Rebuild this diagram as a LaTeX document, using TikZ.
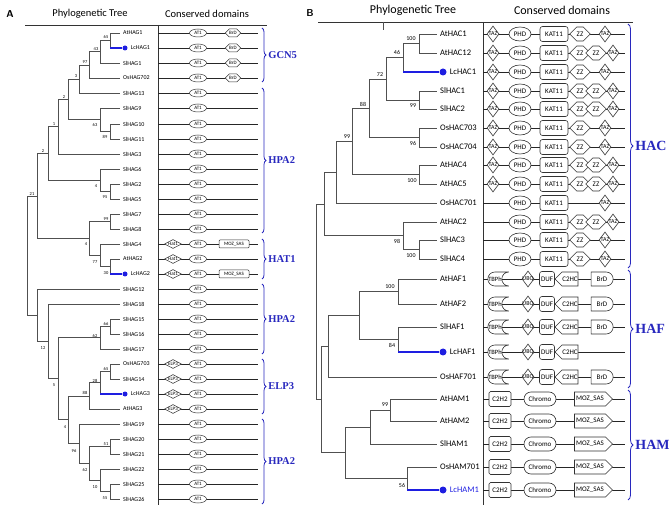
\documentclass[tikz,border=0pt]{standalone}
\usepackage{fontspec}
\setmainfont{Carlito}
\newfontfamily\cladefont{Liberation Serif}
\usetikzlibrary{shapes.geometric, shapes.symbols, shapes.misc, decorations.pathreplacing, positioning, calc}

\definecolor{treegray}{RGB}{80,80,80}
\definecolor{domgray}{RGB}{50,50,50}
\definecolor{lcblue}{RGB}{30,30,225}
\definecolor{cladeblue}{RGB}{40,40,190}

\tikzstyle{branch} = [draw=treegray, line width=0.7pt]
\tikzstyle{lcbranch} = [draw=lcblue, line width=1.2pt]
\tikzstyle{rule} = [draw=black!80, line width=0.8pt]
\tikzstyle{rowline} = [draw=black!85, line width=0.8pt]
\tikzstyle{panel} = [inner sep=0pt, font=\sffamily\bfseries\fontsize{10}{10}\selectfont]
\tikzstyle{headA} = [inner sep=0pt, font=\fontsize{10.5}{10.5}\selectfont]
\tikzstyle{headB} = [inner sep=0pt, font=\fontsize{12}{12}\selectfont]
\tikzstyle{leafA} = [anchor=west, inner xsep=3pt, inner ysep=0pt, font=\fontsize{6}{6}\selectfont]
\tikzstyle{leafB} = [anchor=west, inner xsep=3pt, inner ysep=0pt, font=\fontsize{8.5}{8.5}\selectfont]
\tikzstyle{lcdotA} = [circle, fill=lcblue, inner sep=0pt, minimum size=5pt]
\tikzstyle{lcdotB} = [circle, fill=lcblue, inner sep=0pt, minimum size=7pt]
\tikzstyle{bootA} = [inner sep=0pt, font=\fontsize{4.5}{4.5}\selectfont]
\tikzstyle{bootB} = [inner sep=0pt, font=\fontsize{6}{6}\selectfont]
\tikzstyle{clade} = [draw=cladeblue, line width=0.8pt, decorate, decoration={brace, amplitude=4pt}]
\tikzstyle{cladeA} = [text=cladeblue, inner sep=0pt, font=\cladefont\bfseries\fontsize{10.5}{10.5}\selectfont]
\tikzstyle{cladeB} = [text=cladeblue, inner sep=0pt, font=\cladefont\bfseries\fontsize{14}{14}\selectfont]
% domain shapes, panel A
\tikzstyle{domA} = [draw=domgray, fill=white, inner sep=0pt, line width=0.5pt, font=\fontsize{5}{5}\selectfont]
\tikzstyle{at1} = [domA, ellipse, minimum width=17pt, minimum height=8pt]
\tikzstyle{brdA} = [domA, signal, signal to=west and east, minimum width=11pt, minimum height=8pt]
\tikzstyle{diamA} = [domA, diamond, minimum width=17pt, minimum height=9pt]
\tikzstyle{mozA} = [domA, rectangle, rounded corners=1pt, minimum width=30pt, minimum height=8pt]
% domain shapes, panel B
\tikzstyle{domB} = [draw=domgray, fill=white, inner sep=0pt, line width=0.6pt, minimum height=14pt, font=\fontsize{7}{7}\selectfont]
\tikzstyle{taz} = [domB, diamond, minimum width=12pt, minimum height=16pt, font=\fontsize{6}{6}\selectfont]
\tikzstyle{phd} = [domB, ellipse, minimum width=22pt]
\tikzstyle{kat} = [domB, rectangle, rounded corners=2.5pt, minimum width=28pt, minimum height=15pt]
\tikzstyle{zz} = [domB, signal, signal to=west and east, minimum width=12pt]
\tikzstyle{tbp} = [domB, rounded rectangle, rounded rectangle right arc=concave, minimum width=21pt, font=\fontsize{6.5}{6.5}\selectfont]
\tikzstyle{duf} = [domB, rectangle, rounded corners=2.5pt, minimum width=15pt, minimum height=15pt]
\tikzstyle{c2hc} = [domB, signal, signal to=west, minimum width=23pt]
\tikzstyle{brdB} = [domB, rounded rectangle, rounded rectangle left arc=none, minimum width=22pt]
\tikzstyle{c2h2} = [domB, rectangle, rounded corners=1.5pt, minimum width=22pt, minimum height=15pt]
\tikzstyle{chromo} = [domB, rounded rectangle, minimum width=32pt]
\tikzstyle{mozB} = [domB, signal, signal to=east, minimum width=38pt]

\begin{document}
\begin{tikzpicture}[x=1pt, y=-1pt]
\useasboundingbox (0,0) rectangle (669,510);

%% ---------------- panel A ----------------
\node (labA) [panel] at (10,14) {A};
\node (treeA) [headA] at (90,14) {Phylogenetic Tree};
\node (domA) [headA] at (207,14) {Conserved domains};
\coordinate (ruleAl) at (25,25);
\coordinate (ruleAr) at (267,25);
\coordinate (divA) at (158,25);
\coordinate (divAb) at (158,505);
\coordinate (endA) at (258,25);
\coordinate (braceA) at (262,25);
\coordinate (colHat) at (173,25);
\coordinate (colAT) at (198,25);
\coordinate (colBrD) at (233,25);
\coordinate (colMOZ) at (234,25);
\draw[rule] (ruleAl) -- (ruleAr);
\draw[rule] (divA) -- (divAb);

% leaves
\node (AtHAG1) [leafA] at (120,33) {AtHAG1};
\node (LcHAG1dot) [lcdotA] at (125,48) {};
\node (LcHAG1) [leafA, right=0pt of LcHAG1dot] {LcHAG1};
\node (SlHAG1) [leafA] at (120,63) {SlHAG1};
\node (OsHAG702) [leafA] at (120,78) {OsHAG702};
\node (SlHAG13) [leafA] at (120,93) {SlHAG13};
\node (SlHAG9) [leafA] at (120,108) {SlHAG9};
\node (SlHAG10) [leafA] at (120,124) {SlHAG10};
\node (SlHAG11) [leafA] at (120,139) {SlHAG11};
\node (SlHAG3) [leafA] at (120,154) {SlHAG3};
\node (SlHAG6) [leafA] at (120,169) {SlHAG6};
\node (SlHAG2) [leafA] at (120,184) {SlHAG2};
\node (SlHAG5) [leafA] at (120,199) {SlHAG5};
\node (SlHAG7) [leafA] at (120,214) {SlHAG7};
\node (SlHAG8) [leafA] at (120,229) {SlHAG8};
\node (SlHAG4) [leafA] at (120,244) {SlHAG4};
\node (AtHAG2) [leafA] at (120,259) {AtHAG2};
\node (LcHAG2dot) [lcdotA] at (125,274) {};
\node (LcHAG2) [leafA, right=0pt of LcHAG2dot] {LcHAG2};
\node (SlHAG12) [leafA] at (120,289) {SlHAG12};
\node (SlHAG18) [leafA] at (120,304) {SlHAG18};
\node (SlHAG15) [leafA] at (120,319) {SlHAG15};
\node (SlHAG16) [leafA] at (120,334) {SlHAG16};
\node (SlHAG17) [leafA] at (120,349) {SlHAG17};
\node (OsHAG703) [leafA] at (120,364) {OsHAG703};
\node (SlHAG14) [leafA] at (120,379) {SlHAG14};
\node (LcHAG3dot) [lcdotA] at (125,394) {};
\node (LcHAG3) [leafA, right=0pt of LcHAG3dot] {LcHAG3};
\node (AtHAG3) [leafA] at (120,409) {AtHAG3};
\node (SlHAG19) [leafA] at (120,424) {SlHAG19};
\node (SlHAG20) [leafA] at (120,439) {SlHAG20};
\node (SlHAG21) [leafA] at (120,454) {SlHAG21};
\node (SlHAG22) [leafA] at (120,469) {SlHAG22};
\node (SlHAG25) [leafA] at (120,484) {SlHAG25};
\node (SlHAG26) [leafA] at (120,499) {SlHAG26};

% inner nodes
\coordinate (a65) at (110,40.5);
\coordinate (a43) at (100,51.75);
\coordinate (a97) at (89,64.9);
\coordinate (a3) at (79,78.9);
\coordinate (a89) at (110,131.5);
\coordinate (a63) at (100,119.75);
\coordinate (a2) at (68,99.4);
\coordinate (a1) at (58,126.7);
\coordinate (a95) at (110,191.5);
\coordinate (a4) at (100,180.25);
\coordinate (a2b) at (48,153.5);
\coordinate (a99) at (110,221.5);
\coordinate (a30) at (110,266.5);
\coordinate (a77) at (100,255.25);
\coordinate (a4b) at (89,238.4);
\coordinate (a21) at (37,196);
\coordinate (a66) at (110,326.5);
\coordinate (a62) at (100,337.75);
\coordinate (a65b) at (110,371.5);
\coordinate (a28) at (100,382.75);
\coordinate (a88) at (89,395.9);
\coordinate (a51) at (110,446.5);
\coordinate (a55) at (110,491.5);
\coordinate (a10) at (100,480.25);
\coordinate (a62b) at (89,463.4);
\coordinate (a96) at (79,443.7);
\coordinate (a4c) at (68,419.8);
\coordinate (a5) at (58,378.8);
\coordinate (a12) at (48,341.4);
\coordinate (a37) at (37,315.2);
\coordinate (rootA) at (27,255.6);

\draw[branch] (a65) |- (AtHAG1.west) (a65) |- (LcHAG1dot.west);
\draw[branch] (a43) |- (a65) (a43) |- (SlHAG1.west);
\draw[branch] (a97) |- (a43) (a97) |- (OsHAG702.west);
\draw[branch] (a3) |- (a97) (a3) |- (SlHAG13.west);
\draw[branch] (a89) |- (SlHAG10.west) (a89) |- (SlHAG11.west);
\draw[branch] (a63) |- (SlHAG9.west) (a63) |- (a89);
\draw[branch] (a2) |- (a3) (a2) |- (a63);
\draw[branch] (a1) |- (a2) (a1) |- (SlHAG3.west);
\draw[branch] (a95) |- (SlHAG2.west) (a95) |- (SlHAG5.west);
\draw[branch] (a4) |- (SlHAG6.west) (a4) |- (a95);
\draw[branch] (a2b) |- (a1) (a2b) |- (a4);
\draw[branch] (a99) |- (SlHAG7.west) (a99) |- (SlHAG8.west);
\draw[branch] (a30) |- (AtHAG2.west) (a30) |- (LcHAG2dot.west);
\draw[branch] (a77) |- (SlHAG4.west) (a77) |- (a30);
\draw[branch] (a4b) |- (a99) (a4b) |- (a77);
\draw[branch] (a21) |- (a2b) (a21) |- (a4b);
\draw[branch] (a66) |- (SlHAG15.west) (a66) |- (SlHAG16.west);
\draw[branch] (a62) |- (a66) (a62) |- (SlHAG17.west);
\draw[branch] (a65b) |- (OsHAG703.west) (a65b) |- (SlHAG14.west);
\draw[branch] (a28) |- (a65b) (a28) |- (LcHAG3dot.west);
\draw[branch] (a88) |- (a28) (a88) |- (AtHAG3.west);
\draw[branch] (a51) |- (SlHAG20.west) (a51) |- (SlHAG21.west);
\draw[branch] (a55) |- (SlHAG25.west) (a55) |- (SlHAG26.west);
\draw[branch] (a10) |- (SlHAG22.west) (a10) |- (a55);
\draw[branch] (a62b) |- (a51) (a62b) |- (a10);
\draw[branch] (a96) |- (SlHAG19.west) (a96) |- (a62b);
\draw[branch] (a4c) |- (a88) (a4c) |- (a96);
\draw[branch] (a5) |- (a62) (a5) |- (a4c);
\draw[branch] (a12) |- (SlHAG18.west) (a12) |- (a5);
\draw[branch] (a37) |- (SlHAG12.west) (a37) |- (a12);
\draw[branch] (rootA) |- (a21) (rootA) |- (a37);
\draw[lcbranch] (a65 |- LcHAG1dot) -- (LcHAG1dot.west);
\draw[lcbranch] (a30 |- LcHAG2dot) -- (LcHAG2dot.west);
\draw[lcbranch] (a28 |- LcHAG3dot) -- (LcHAG3dot.west);

% bootstrap values
\node (bsa65) [bootA] at (106,37) {65};
\node (bsa43) [bootA] at (96,49) {43};
\node (bsa97) [bootA] at (85,62) {97};
\node (bsa3) [bootA] at (76,76) {3};
\node (bsa89) [bootA] at (105,137) {89};
\node (bsa63) [bootA] at (95,125) {63};
\node (bsa2) [bootA] at (64,97) {2};
\node (bsa1) [bootA] at (54,124) {1};
\node (bsa95) [bootA] at (105,197) {95};
\node (bsa4) [bootA] at (96,186) {4};
\node (bsa2b) [bootA] at (43,151) {2};
\node (bsa99) [bootA] at (106,219) {99};
\node (bsa30) [bootA] at (106,273) {30};
\node (bsa77) [bootA] at (95,262) {77};
\node (bsa4b) [bootA] at (86,244) {4};
\node (bsa21) [bootA] at (32,194) {21};
\node (bsa66) [bootA] at (106,324) {66};
\node (bsa62) [bootA] at (95,336) {62};
\node (bsa65b) [bootA] at (106,369) {65};
\node (bsa28) [bootA] at (95,381) {28};
\node (bsa88) [bootA] at (85,393) {88};
\node (bsa51) [bootA] at (106,444) {51};
\node (bsa55) [bootA] at (105,498) {55};
\node (bsa10) [bootA] at (95,487) {10};
\node (bsa62b) [bootA] at (85,470) {62};
\node (bsa96) [bootA] at (74,451) {96};
\node (bsa4c) [bootA] at (65,427) {4};
\node (bsa5) [bootA] at (54,385) {5};
\node (bsa12) [bootA] at (43,348) {12};

% domain rows
\foreach \l in {AtHAG1, LcHAG1, SlHAG1, OsHAG702, SlHAG13, SlHAG9, SlHAG10, SlHAG11,
  SlHAG3, SlHAG6, SlHAG2, SlHAG5, SlHAG7, SlHAG8, SlHAG4, AtHAG2, LcHAG2, SlHAG12,
  SlHAG18, SlHAG15, SlHAG16, SlHAG17, OsHAG703, SlHAG14, LcHAG3, AtHAG3, SlHAG19,
  SlHAG20, SlHAG21, SlHAG22, SlHAG25, SlHAG26}
  \draw[rowline] (divA |- \l) -- (endA |- \l);
\foreach \l in {AtHAG1, LcHAG1, SlHAG1, OsHAG702} {
  \node (\l-at1) [at1] at (colAT |- \l) {AT1};
  \node (\l-brd) [brdA] at (colBrD |- \l) {BrD};
}
\foreach \l in {SlHAG13, SlHAG9, SlHAG10, SlHAG11, SlHAG3, SlHAG6, SlHAG2, SlHAG5,
  SlHAG7, SlHAG8, SlHAG12, SlHAG18, SlHAG15, SlHAG16, SlHAG17, SlHAG19, SlHAG20,
  SlHAG21, SlHAG22, SlHAG25, SlHAG26}
  \node (\l-at1) [at1] at (colAT |- \l) {AT1};
\foreach \l in {SlHAG4, AtHAG2, LcHAG2} {
  \node (\l-hat) [diamA] at (colHat |- \l) {\makebox[0pt]{Hat1}};
  \node (\l-at1) [at1] at (colAT |- \l) {AT1};
}
\foreach \l in {SlHAG4, LcHAG2}
  \node (\l-moz) [mozA] at (colMOZ |- \l) {MOZ\_SAS};
\foreach \l in {OsHAG703, SlHAG14, LcHAG3, AtHAG3} {
  \node (\l-elp) [diamA] at (colHat |- \l) {\makebox[0pt]{ELP3}};
  \node (\l-at1) [at1] at (colAT |- \l) {AT1};
}

% clades
\draw[clade] ($(braceA |- AtHAG1)+(0,-5)$) -- ($(braceA |- OsHAG702)+(0,4)$)
  node (gcn5) [cladeA, midway, right=6pt] {GCN5};
\draw[clade] ($(braceA |- SlHAG13)+(0,-5)$) -- ($(braceA |- SlHAG8)+(0,4)$)
  node (hpa2a) [cladeA, midway, right=6pt] {HPA2};
\draw[clade] ($(braceA |- SlHAG4)+(0,-5)$) -- ($(braceA |- LcHAG2)+(0,5)$)
  node (hat1) [cladeA, midway, right=6pt] {HAT1};
\draw[clade] ($(braceA |- SlHAG12)+(0,-5)$) -- ($(braceA |- SlHAG17)+(0,5)$)
  node (hpa2b) [cladeA, midway, right=6pt] {HPA2};
\draw[clade] ($(braceA |- OsHAG703)+(0,-5)$) -- ($(braceA |- AtHAG3)+(0,5)$)
  node (elp3) [cladeA, midway, right=6pt] {ELP3};
\draw[clade] ($(braceA |- SlHAG19)+(0,-5)$) -- ($(braceA |- SlHAG26)+(0,5)$)
  node (hpa2c) [cladeA, midway, right=6pt] {HPA2};

%% ---------------- panel B ----------------
\node (labB) [panel] at (310,13) {B};
\node (treeB) [headB] at (413,10) {Phylogenetic Tree};
\node (domB) [headB] at (562,10) {Conserved domains};
\coordinate (ruleBl) at (318,22);
\coordinate (ruleBr) at (633,22);
\coordinate (tickB) at (383,22);
\coordinate (tickBb) at (383,30);
\coordinate (divB) at (483,22);
\coordinate (divBb) at (483,505);
\coordinate (endB) at (625,22);
\coordinate (braceB) at (628,22);
\draw[rule] (ruleBl) -- (ruleBr);
\draw[rule] (divB) -- (divBb);
\draw[branch] (tickB) -- (tickBb);

% leaves
\node (AtHAC1) [leafB] at (437,34) {AtHAC1};
\node (AtHAC12) [leafB] at (437,53) {AtHAC12};
\node (LcHAC1dot) [lcdotB] at (443,72) {};
\node (LcHAC1) [leafB, right=0pt of LcHAC1dot] {LcHAC1};
\node (SlHAC1) [leafB] at (437,91) {SlHAC1};
\node (SlHAC2) [leafB] at (437,109) {SlHAC2};
\node (OsHAC703) [leafB] at (437,128) {OsHAC703};
\node (OsHAC704) [leafB] at (437,147) {OsHAC704};
\node (AtHAC4) [leafB] at (437,165) {AtHAC4};
\node (AtHAC5) [leafB] at (437,184) {AtHAC5};
\node (OsHAC701) [leafB] at (437,203) {OsHAC701};
\node (AtHAC2) [leafB] at (437,222) {AtHAC2};
\node (SlHAC3) [leafB] at (437,240) {SlHAC3};
\node (SlHAC4) [leafB] at (437,259) {SlHAC4};
\node (AtHAF1) [leafB] at (437,279) {AtHAF1};
\node (AtHAF2) [leafB] at (437,304) {AtHAF2};
\node (SlHAF1) [leafB] at (437,327) {SlHAF1};
\node (LcHAF1dot) [lcdotB] at (443,352) {};
\node (LcHAF1) [leafB, right=0pt of LcHAF1dot] {LcHAF1};
\node (OsHAF701) [leafB] at (437,377) {OsHAF701};
\node (AtHAM1) [leafB] at (437,399) {AtHAM1};
\node (AtHAM2) [leafB] at (437,421) {AtHAM2};
\node (SlHAM1) [leafB] at (437,444) {SlHAM1};
\node (OsHAM701) [leafB] at (437,467) {OsHAM701};
\node (LcHAM1dot) [lcdotB] at (443,490) {};
\node (LcHAM1) [leafB, right=0pt of LcHAM1dot, text=lcblue] {LcHAM1};

% inner nodes
\coordinate (b100a) at (419,43.5);
\coordinate (b46) at (403,57.75);
\coordinate (b99a) at (419,100);
\coordinate (b72) at (386,78.9);
\coordinate (b96) at (419,137.5);
\coordinate (b88) at (369,108.2);
\coordinate (b100b) at (419,174.5);
\coordinate (b99b) at (352,141.4);
\coordinate (bOs) at (336,172.2);
\coordinate (b100c) at (419,249.5);
\coordinate (b98) at (403,235.75);
\coordinate (bHAC) at (324,204);
\coordinate (b100d) at (398,291.5);
\coordinate (b84) at (398,339.5);
\coordinate (bHAFa) at (359,315.5);
\coordinate (bHAF) at (328,346.25);
\coordinate (b99c) at (390,410);
\coordinate (bSl) at (370,427);
\coordinate (b56) at (407,478.5);
\coordinate (bHAM) at (345,452.75);
\coordinate (bHAFM) at (321,399.5);
\coordinate (rootB) at (316,301.75);

\draw[branch] (b100a) |- (AtHAC1.west) (b100a) |- (AtHAC12.west);
\draw[branch] (b46) |- (b100a) (b46) |- (LcHAC1dot.west);
\draw[branch] (b99a) |- (SlHAC1.west) (b99a) |- (SlHAC2.west);
\draw[branch] (b72) |- (b46) (b72) |- (b99a);
\draw[branch] (b96) |- (OsHAC703.west) (b96) |- (OsHAC704.west);
\draw[branch] (b88) |- (b72) (b88) |- (b96);
\draw[branch] (b100b) |- (AtHAC4.west) (b100b) |- (AtHAC5.west);
\draw[branch] (b99b) |- (b88) (b99b) |- (b100b);
\draw[branch] (bOs) |- (b99b) (bOs) |- (OsHAC701.west);
\draw[branch] (b100c) |- (SlHAC3.west) (b100c) |- (SlHAC4.west);
\draw[branch] (b98) |- (AtHAC2.west) (b98) |- (b100c);
\draw[branch] (bHAC) |- (bOs) (bHAC) |- (b98);
\draw[branch] (b100d) |- (AtHAF1.west) (b100d) |- (AtHAF2.west);
\draw[branch] (b84) |- (SlHAF1.west) (b84) |- (LcHAF1dot.west);
\draw[branch] (bHAFa) |- (b100d) (bHAFa) |- (b84);
\draw[branch] (bHAF) |- (bHAFa) (bHAF) |- (OsHAF701.west);
\draw[branch] (b99c) |- (AtHAM1.west) (b99c) |- (AtHAM2.west);
\draw[branch] (bSl) |- (b99c) (bSl) |- (SlHAM1.west);
\draw[branch] (b56) |- (OsHAM701.west) (b56) |- (LcHAM1dot.west);
\draw[branch] (bHAM) |- (bSl) (bHAM) |- (b56);
\draw[branch] (bHAFM) |- (bHAF) (bHAFM) |- (bHAM);
\draw[branch] (rootB) |- (bHAC) (rootB) |- (bHAFM);
\draw[lcbranch] (b46 |- LcHAC1dot) -- (LcHAC1dot.west);
\draw[lcbranch] (b84 |- LcHAF1dot) -- (LcHAF1dot.west);
\draw[lcbranch] (b56 |- LcHAM1dot) -- (LcHAM1dot.west);

% bootstrap values
\node (bsb100a) [bootB] at (411,39) {100};
\node (bsb46) [bootB] at (397,53) {46};
\node (bsb72) [bootB] at (380,75) {72};
\node (bsb99a) [bootB] at (413,106) {99};
\node (bsb88) [bootB] at (363,104) {88};
\node (bsb96) [bootB] at (413,143) {96};
\node (bsb99b) [bootB] at (347,137) {99};
\node (bsb100b) [bootB] at (412,181) {100};
\node (bsb98) [bootB] at (397,241) {98};
\node (bsb100c) [bootB] at (411,256) {100};
\node (bsb100d) [bootB] at (390,287) {100};
\node (bsb84) [bootB] at (392,345) {84};
\node (bsb99c) [bootB] at (385,405) {99};
\node (bsb56) [bootB] at (402,485) {56};

% domain rows
\coordinate (cTAZ) at (493,22);
\coordinate (cPHD) at (520,22);
\coordinate (cKAT) at (554,22);
\coordinate (cZZa) at (580,22);
\coordinate (cZZb) at (596,22);
\coordinate (cTAZs) at (605,22);
\coordinate (cTAZd) at (613,22);
\coordinate (cTBP) at (495,22);
\coordinate (cUBQ) at (528,22);
\coordinate (cDUF) at (547,22);
\coordinate (cC2HC) at (570,22);
\coordinate (cBrD) at (602,22);
\coordinate (cC2H2) at (500,22);
\coordinate (cChromo) at (540,22);
\coordinate (cMOZ) at (590,22);
\foreach \l in {AtHAC1, AtHAC12, LcHAC1, SlHAC1, SlHAC2, OsHAC703, OsHAC704, AtHAC4,
  AtHAC5, OsHAC701, AtHAC2, SlHAC3, SlHAC4, AtHAF1, AtHAF2, SlHAF1, LcHAF1, OsHAF701,
  AtHAM1, AtHAM2, SlHAM1, OsHAM701, LcHAM1}
  \draw[rowline] (divB |- \l) -- (endB |- \l);
\foreach \l in {AtHAC1, LcHAC1, OsHAC703, OsHAC704, AtHAC12, SlHAC1, SlHAC2, AtHAC4, AtHAC5}
  \node (\l-taz1) [taz] at (cTAZ |- \l) {\makebox[0pt]{TAZ}};
\foreach \l in {AtHAC1, LcHAC1, OsHAC703, OsHAC704, AtHAC12, SlHAC1, SlHAC2, AtHAC4,
  AtHAC5, OsHAC701, AtHAC2, SlHAC3, SlHAC4} {
  \node (\l-phd) [phd] at (cPHD |- \l) {PHD};
  \node (\l-kat) [kat] at (cKAT |- \l) {KAT11};
}
\foreach \l in {AtHAC1, LcHAC1, OsHAC703, OsHAC704, AtHAC12, SlHAC1, SlHAC2, AtHAC4,
  AtHAC5, AtHAC2, SlHAC3, SlHAC4}
  \node (\l-zz1) [zz] at (cZZa |- \l) {ZZ};
\foreach \l in {AtHAC12, SlHAC1, SlHAC2, AtHAC4, AtHAC5, AtHAC2} {
  \node (\l-zz2) [zz] at (cZZb |- \l) {ZZ};
  \node (\l-taz2) [taz] at (cTAZd |- \l) {\makebox[0pt]{TAZ}};
}
\foreach \l in {AtHAC1, LcHAC1, OsHAC703, OsHAC704, OsHAC701, SlHAC3, SlHAC4}
  \node (\l-taz2) [taz] at (cTAZs |- \l) {\makebox[0pt]{TAZ}};
\foreach \l in {AtHAF1, AtHAF2, SlHAF1, LcHAF1, OsHAF701} {
  \node (\l-tbp) [tbp] at (cTBP |- \l) {TBPh};
  \node (\l-ubq) [taz] at (cUBQ |- \l) {\makebox[0pt]{UBQ}};
  \node (\l-duf) [duf] at (cDUF |- \l) {DUF};
  \node (\l-c2hc) [c2hc] at (cC2HC |- \l) {C2HC};
}
\foreach \l in {AtHAF1, AtHAF2, SlHAF1, OsHAF701}
  \node (\l-brd) [brdB] at (cBrD |- \l) {BrD};
\foreach \l in {AtHAM1, AtHAM2, SlHAM1, OsHAM701, LcHAM1} {
  \node (\l-c2h2) [c2h2] at (cC2H2 |- \l) {C2H2};
  \node (\l-chromo) [chromo] at (cChromo |- \l) {Chromo};
  \node (\l-moz) [mozB] at (cMOZ |- \l) {MOZ\_SAS};
}

% clades
\draw[clade, decoration={brace, amplitude=5pt}] ($(braceB |- AtHAC1)+(0,-10)$) -- ($(braceB |- SlHAC4)+(0,9)$)
  node (hac) [cladeB, midway, right=7pt] {HAC};
\draw[clade, decoration={brace, amplitude=5pt}] ($(braceB |- AtHAF1)+(0,-9)$) -- ($(braceB |- OsHAF701)+(0,11)$)
  node (haf) [cladeB, midway, right=7pt] {HAF};
\draw[clade, decoration={brace, amplitude=5pt}] ($(braceB |- AtHAM1)+(0,-9)$) -- ($(braceB |- LcHAM1)+(0,10)$)
  node (ham) [cladeB, midway, right=7pt] {HAM};
\end{tikzpicture}
\end{document}
